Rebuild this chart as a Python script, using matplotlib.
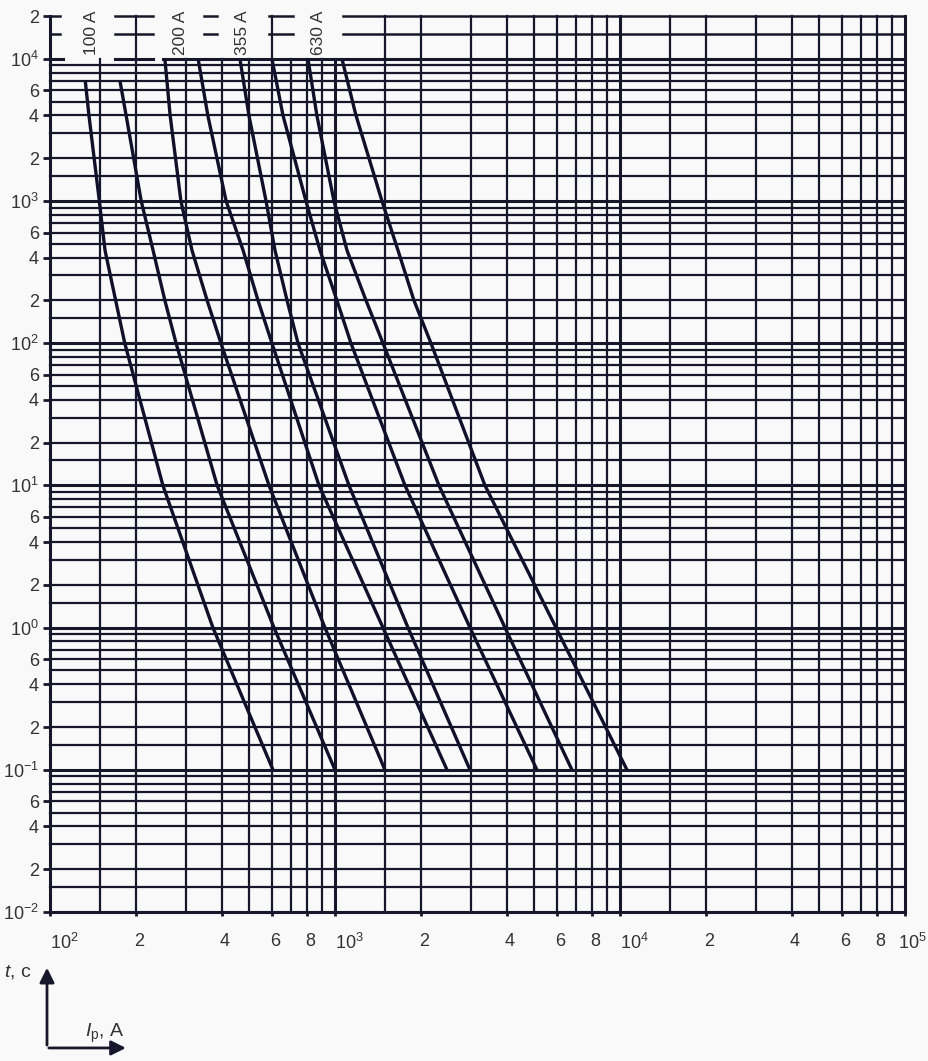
import matplotlib.pyplot as plt
from matplotlib import transforms

# time-current curves (current in A, time in s)
t_low = [7000, 4000, 1000, 450, 200, 100, 10, 1, 0.1]
t_high = [10000, 4000, 1000, 450, 200, 100, 10, 1, 0.1]

i_curve1 = [133, 137, 149, 156, 170, 183, 249, 373, 606]
i_curve2 = [176, 185, 209, 230, 253, 277, 386, 611, 1000]
i_curve3 = [253, 264, 288, 315, 356, 398, 587, 922, 1497]
i_curve4 = [331, 358, 415, 476, 537, 601, 879, 1474, 2472]
i_curve5 = [464, 499, 573, 616, 679, 742, 1120, 1804, 2977]
i_curve6 = [601, 657, 791, 886, 1016, 1138, 1761, 2977, 5114]
i_curve7 = [804, 864, 992, 1102, 1285, 1474, 2317, 3950, 6785]
i_curve8 = [1058, 1185, 1462, 1664, 1893, 2172, 3360, 5963, 10580]

rating_labels = ['100 A', '200 A', '355 A', '630 A']
rating_x = [140, 286, 475, 872]

grid_mult = [1, 1.5, 2, 3, 4, 5, 6, 7, 8, 9]
x_decades = [1e2, 1e3, 1e4]
y_decades = [1e-2, 1e-1, 1e0, 1e1, 1e2, 1e3]

x_ticks = [1e2, 2e2, 4e2, 6e2, 8e2, 1e3, 2e3, 4e3, 6e3, 8e3, 1e4, 2e4, 4e4, 6e4, 8e4, 1e5]
x_ticklabels = ['$10^{2}$', '2', '4', '6', '8', '$10^{3}$', '2', '4', '6', '8',
                '$10^{4}$', '2', '4', '6', '8', '$10^{5}$']
y_ticks = [1e-2, 2e-2, 4e-2, 6e-2, 1e-1, 2e-1, 4e-1, 6e-1, 1e0, 2e0, 4e0, 6e0,
           1e1, 2e1, 4e1, 6e1, 1e2, 2e2, 4e2, 6e2, 1e3, 2e3, 4e3, 6e3, 1e4, 2e4]
y_ticklabels = ['$10^{-2}$', '2', '4', '6', '$10^{-1}$', '2', '4', '6',
                '$10^{0}$', '2', '4', '6', '$10^{1}$', '2', '4', '6',
                '$10^{2}$', '2', '4', '6', '$10^{3}$', '2', '4', '6', '$10^{4}$', '2']

font = 'Liberation Sans'
plt.rcParams['font.family'] = [font, 'DejaVu Sans']
plt.rcParams['mathtext.fontset'] = 'custom'
plt.rcParams['mathtext.rm'] = font
plt.rcParams['mathtext.it'] = font + ':italic'

ink = '#17172b'
txt = '#333333'
bg = '#f9f9f9'

fig = plt.figure(figsize=(9.29, 10.61), dpi=100, facecolor=bg)
ax = fig.add_axes([0.0538, 0.1404, 0.9203, 0.8445], facecolor=bg)
ax.set_xscale('log')
ax.set_yscale('log')
ax.set_xlim(1e2, 1e5)
ax.set_ylim(1e-2, 2e4)
for s in ax.spines.values():
    s.set_visible(False)

# vertical grid lines
tall = [1e2, 2e2, 6e2]
for d in x_decades:
    for m in grid_mult:
        x = m * d
        top = 2e4 if (x in tall or x >= 1.5e3) else 1e4
        lw = 2.2 if m == 1 else 1.6
        ax.plot([x, x], [1e-2, top], color=ink, lw=lw, clip_on=False, zorder=2)
ax.plot([1e5, 1e5], [1e-2, 2e4], color=ink, lw=2.2, clip_on=False, zorder=2)

# horizontal grid lines
for d in y_decades:
    for m in grid_mult:
        y = m * d
        lw = 2.2 if m == 1 else 1.6
        ax.plot([1e2, 1e5], [y, y], color=ink, lw=lw, clip_on=False, zorder=2)

# broken lines in the label band at the top
for y in [1.5e4, 2e4]:
    for x0, x1 in [(100, 108), (169, 230), (347, 384), (587, 711), (1067, 1e5)]:
        ax.plot([x0, x1], [y, y], color=ink, lw=1.8, clip_on=False, zorder=2)
for x0, x1 in [(100, 111), (169, 230), (249, 1e5)]:
    ax.plot([x0, x1], [1e4, 1e4], color=ink, lw=2.2, clip_on=False, zorder=2)

# curves
for xs, ts in [(i_curve1, t_low), (i_curve2, t_low), (i_curve3, t_high),
               (i_curve4, t_high), (i_curve5, t_high), (i_curve6, t_high),
               (i_curve7, t_high), (i_curve8, t_high)]:
    ax.plot(xs, ts, color='#10102a', lw=2.4, solid_joinstyle='round',
            solid_capstyle='butt', zorder=3)

for lab, x in zip(rating_labels, rating_x):
    ax.text(x, 1.06e4, lab, rotation=90, ha='center', va='bottom',
            fontsize=12.5, color=txt, zorder=4)

ax.set_xticks(x_ticks)
ax.set_xticklabels(x_ticklabels)
ax.set_xticks([], minor=True)
ax.set_yticks(y_ticks)
ax.set_yticklabels(y_ticklabels)
ax.set_yticks([], minor=True)
ax.tick_params(axis='x', length=3, width=2, color=ink, pad=12, labelsize=13, labelcolor=txt)
ax.tick_params(axis='y', length=5, width=2, color=ink, pad=3, labelsize=13, labelcolor=txt)
xlabs = ax.get_xticklabels()
for lab in xlabs:
    if lab.get_text().startswith('$'):
        lab.set_ha('left')
    else:
        lab.set_transform(lab.get_transform() + transforms.ScaledTranslation(3 / 100, 0, fig.dpi_scale_trans))
xlabs[-1].set_ha('right')
xlabs[-1].set_transform(xlabs[-1].get_transform() + transforms.ScaledTranslation(22 / 100, 0, fig.dpi_scale_trans))

# axis arrows in the lower left corner
ax.annotate('', xy=(0.0506, 0.0905), xytext=(0.0506, 0.0123), xycoords='figure fraction',
            arrowprops=dict(arrowstyle='-|>', color=ink, lw=2, mutation_scale=22))
ax.annotate('', xy=(0.1385, 0.0123), xytext=(0.0496, 0.0123), xycoords='figure fraction',
            arrowprops=dict(arrowstyle='-|>', color=ink, lw=2, mutation_scale=22))
fig.text(0.004, 0.084, '$\\mathit{t}$, c', fontsize=14, color=txt, va='center')
fig.text(0.092, 0.026, '$\\mathit{I}_{\\mathrm{p}}$, A', fontsize=14, color=txt, va='center')

fig.savefig('out.png', dpi=100, facecolor=bg)
